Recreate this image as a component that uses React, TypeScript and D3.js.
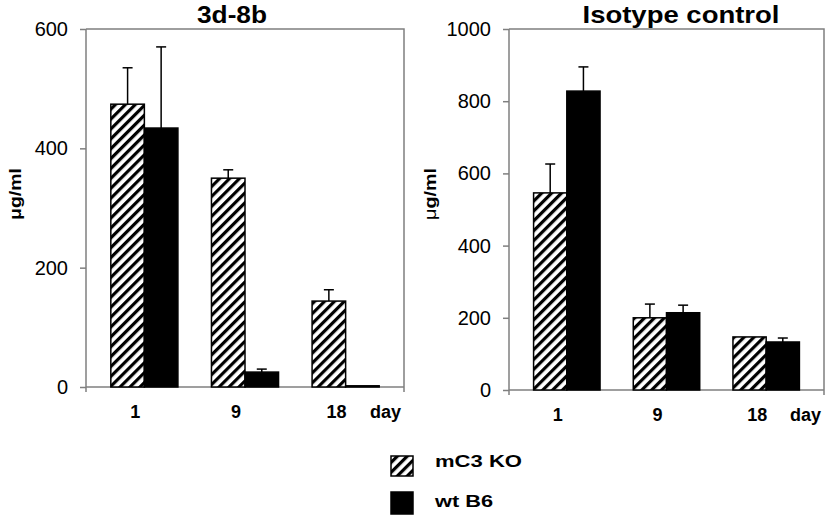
import * as d3 from 'd3';
import React, { useEffect, useRef } from 'react';

const days = ['1', '9', '18'];
const seriesNames = ['mC3 KO', 'wt B6'];

// panel 1: 3d-8b
const ab3d8bKO = [474, 350, 144];
const ab3d8bKOErr = [61, 14, 19];
const ab3d8bWT = [434, 25, 2];
const ab3d8bWTErr = [136, 5, 0];

// panel 2: isotype control
const isoKO = [546, 200, 147];
const isoKOErr = [80, 38, 0];
const isoWT = [828, 214, 133];
const isoWTErr = [67, 21, 11];

const yTicksLeft = [0, 200, 400, 600];
const yTicksRight = [0, 200, 400, 600, 800, 1000];

const FONT = '"Liberation Sans", Arial, sans-serif';
const GRAY = '#7f7f7f';

export default function App() {
    const svgRef = useRef(null);

    useEffect(() => {
        const svg = d3.select(svgRef.current);
        svg.selectAll('*').remove();

        // hatch pattern
        const defs = svg.append('defs');
        const pat = defs.append('pattern')
            .attr('id', 'hatch')
            .attr('patternUnits', 'userSpaceOnUse')
            .attr('width', 7)
            .attr('height', 7)
            .attr('patternTransform', 'rotate(45)');
        pat.append('rect').attr('width', 7).attr('height', 7).attr('fill', 'white');
        pat.append('rect').attr('width', 3.2).attr('height', 7).attr('fill', 'black');

        const panels = [
            {
                title: '3d-8b', titleX: 232, titleLen: 70,
                left: 86, right: 404, top: 29, bottom: 387,
                max: 600, ticks: yTicksLeft,
                ko: ab3d8bKO, koErr: ab3d8bKOErr, wt: ab3d8bWT, wtErr: ab3d8bWTErr,
                labelX: 15, muBold: true
            },
            {
                title: 'Isotype control', titleX: 681, titleLen: 197,
                left: 509, right: 824, top: 29, bottom: 390,
                max: 1000, ticks: yTicksRight,
                ko: isoKO, koErr: isoKOErr, wt: isoWT, wtErr: isoWTErr,
                labelX: 430, muBold: false
            }
        ];

        panels.forEach(p => {
            const g = svg.append('g');

            const x = d3.scalePoint()
                .domain(days)
                .range([p.left, p.right])
                .padding(0.58);
            const bw = x.step() / 3;

            const y = d3.scaleLinear()
                .domain([0, p.max])
                .range([p.bottom, p.top]);

            // frame (top + right)
            g.append('path')
                .attr('d', `M${p.left},${p.top}H${p.right}V${p.bottom + 5}`)
                .attr('fill', 'none')
                .attr('stroke', GRAY)
                .attr('stroke-width', 1.5);

            // y axis
            const yAxis = g.append('g')
                .attr('transform', `translate(${p.left},0)`)
                .call(d3.axisLeft(y)
                    .tickValues(p.ticks)
                    .tickFormat(d3.format('d'))
                    .tickSize(6)
                    .tickSizeOuter(0)
                    .tickPadding(12));
            yAxis.select('.domain')
                .attr('d', `M0,${p.top}V${p.bottom + 5}`)
                .attr('stroke', GRAY)
                .attr('stroke-width', 1.5);
            yAxis.selectAll('.tick line').attr('stroke', GRAY).attr('stroke-width', 1.5);
            yAxis.selectAll('.tick text')
                .attr('font-family', FONT)
                .attr('font-size', 20)
                .attr('fill', 'black');

            // x axis line
            g.append('line')
                .attr('x1', p.left).attr('x2', p.right)
                .attr('y1', p.bottom).attr('y2', p.bottom)
                .attr('stroke', GRAY)
                .attr('stroke-width', 1.5);

            const series = [
                { vals: p.ko, errs: p.koErr, fill: 'url(#hatch)', off: -bw },
                { vals: p.wt, errs: p.wtErr, fill: 'black', off: 0 }
            ];

            series.forEach(s => {
                const data = days.map((d, i) => ({ day: d, v: s.vals[i], e: s.errs[i] }));

                // error bars
                const eb = g.append('g').attr('stroke', 'black').attr('stroke-width', 1.5);
                data.filter(d => d.e > 0).forEach(d => {
                    const cx = x(d.day) + s.off + bw / 2;
                    eb.append('line')
                        .attr('x1', cx).attr('x2', cx)
                        .attr('y1', y(d.v)).attr('y2', y(d.v + d.e));
                    eb.append('line')
                        .attr('x1', cx - 5).attr('x2', cx + 5)
                        .attr('y1', y(d.v + d.e)).attr('y2', y(d.v + d.e));
                });

                g.append('g')
                    .selectAll('rect')
                    .data(data)
                    .join('rect')
                    .attr('x', d => x(d.day) + s.off)
                    .attr('y', d => y(d.v))
                    .attr('width', bw)
                    .attr('height', d => y(0) - y(d.v))
                    .attr('fill', s.fill)
                    .attr('stroke', 'black')
                    .attr('stroke-width', 1.5);
            });

            // x labels
            g.append('g')
                .selectAll('text')
                .data(days)
                .join('text')
                .attr('x', d => x(d) - 9)
                .attr('y', p.bottom + 31)
                .attr('text-anchor', 'middle')
                .attr('font-family', FONT)
                .attr('font-weight', 'bold')
                .attr('font-size', 18)
                .text(d => d);
            g.append('text')
                .attr('x', p.right - 3)
                .attr('y', p.bottom + 31)
                .attr('text-anchor', 'end')
                .attr('font-family', FONT)
                .attr('font-weight', 'bold')
                .attr('font-size', 18)
                .text('day');

            // title
            g.append('text')
                .attr('x', p.titleX)
                .attr('y', 23)
                .attr('text-anchor', 'middle')
                .attr('font-family', FONT)
                .attr('font-weight', 'bold')
                .attr('font-size', 24)
                .attr('textLength', p.titleLen)
                .attr('lengthAdjust', 'spacingAndGlyphs')
                .text(p.title);

            // y label
            const yl = g.append('text')
                .attr('transform', `translate(${p.labelX + 6},194) rotate(-90)`)
                .attr('text-anchor', 'middle')
                .attr('font-family', FONT)
                .attr('font-weight', 'bold')
                .attr('font-size', 17)
                .attr('textLength', 52)
                .attr('lengthAdjust', 'spacingAndGlyphs');
            yl.append('tspan').attr('font-weight', p.muBold ? 'bold' : 'normal').text('μ');
            yl.append('tspan').text('g/ml');
        });

        // legend
        const legend = svg.append('g');
        const fills = ['url(#hatch)', 'black'];
        const rowsY = [456, 492];
        const textY = [467, 507];
        const textLen = [87, 58];
        seriesNames.forEach((name, i) => {
            legend.append('rect')
                .attr('x', 391).attr('y', rowsY[i])
                .attr('width', 22).attr('height', i === 0 ? 20 : 22)
                .attr('fill', fills[i])
                .attr('stroke', 'black')
                .attr('stroke-width', 1.5);
            legend.append('text')
                .attr('x', 435).attr('y', textY[i])
                .attr('font-family', FONT)
                .attr('font-weight', 'bold')
                .attr('font-size', 17)
                .attr('textLength', textLen[i])
                .attr('lengthAdjust', 'spacingAndGlyphs')
                .text(name);
        });
    }, []);

    return (
        <svg
            ref={svgRef}
            width={827}
            height={519}
            style={{ position: 'absolute', left: 0, top: 0, background: 'white' }}
        />
    );
}
